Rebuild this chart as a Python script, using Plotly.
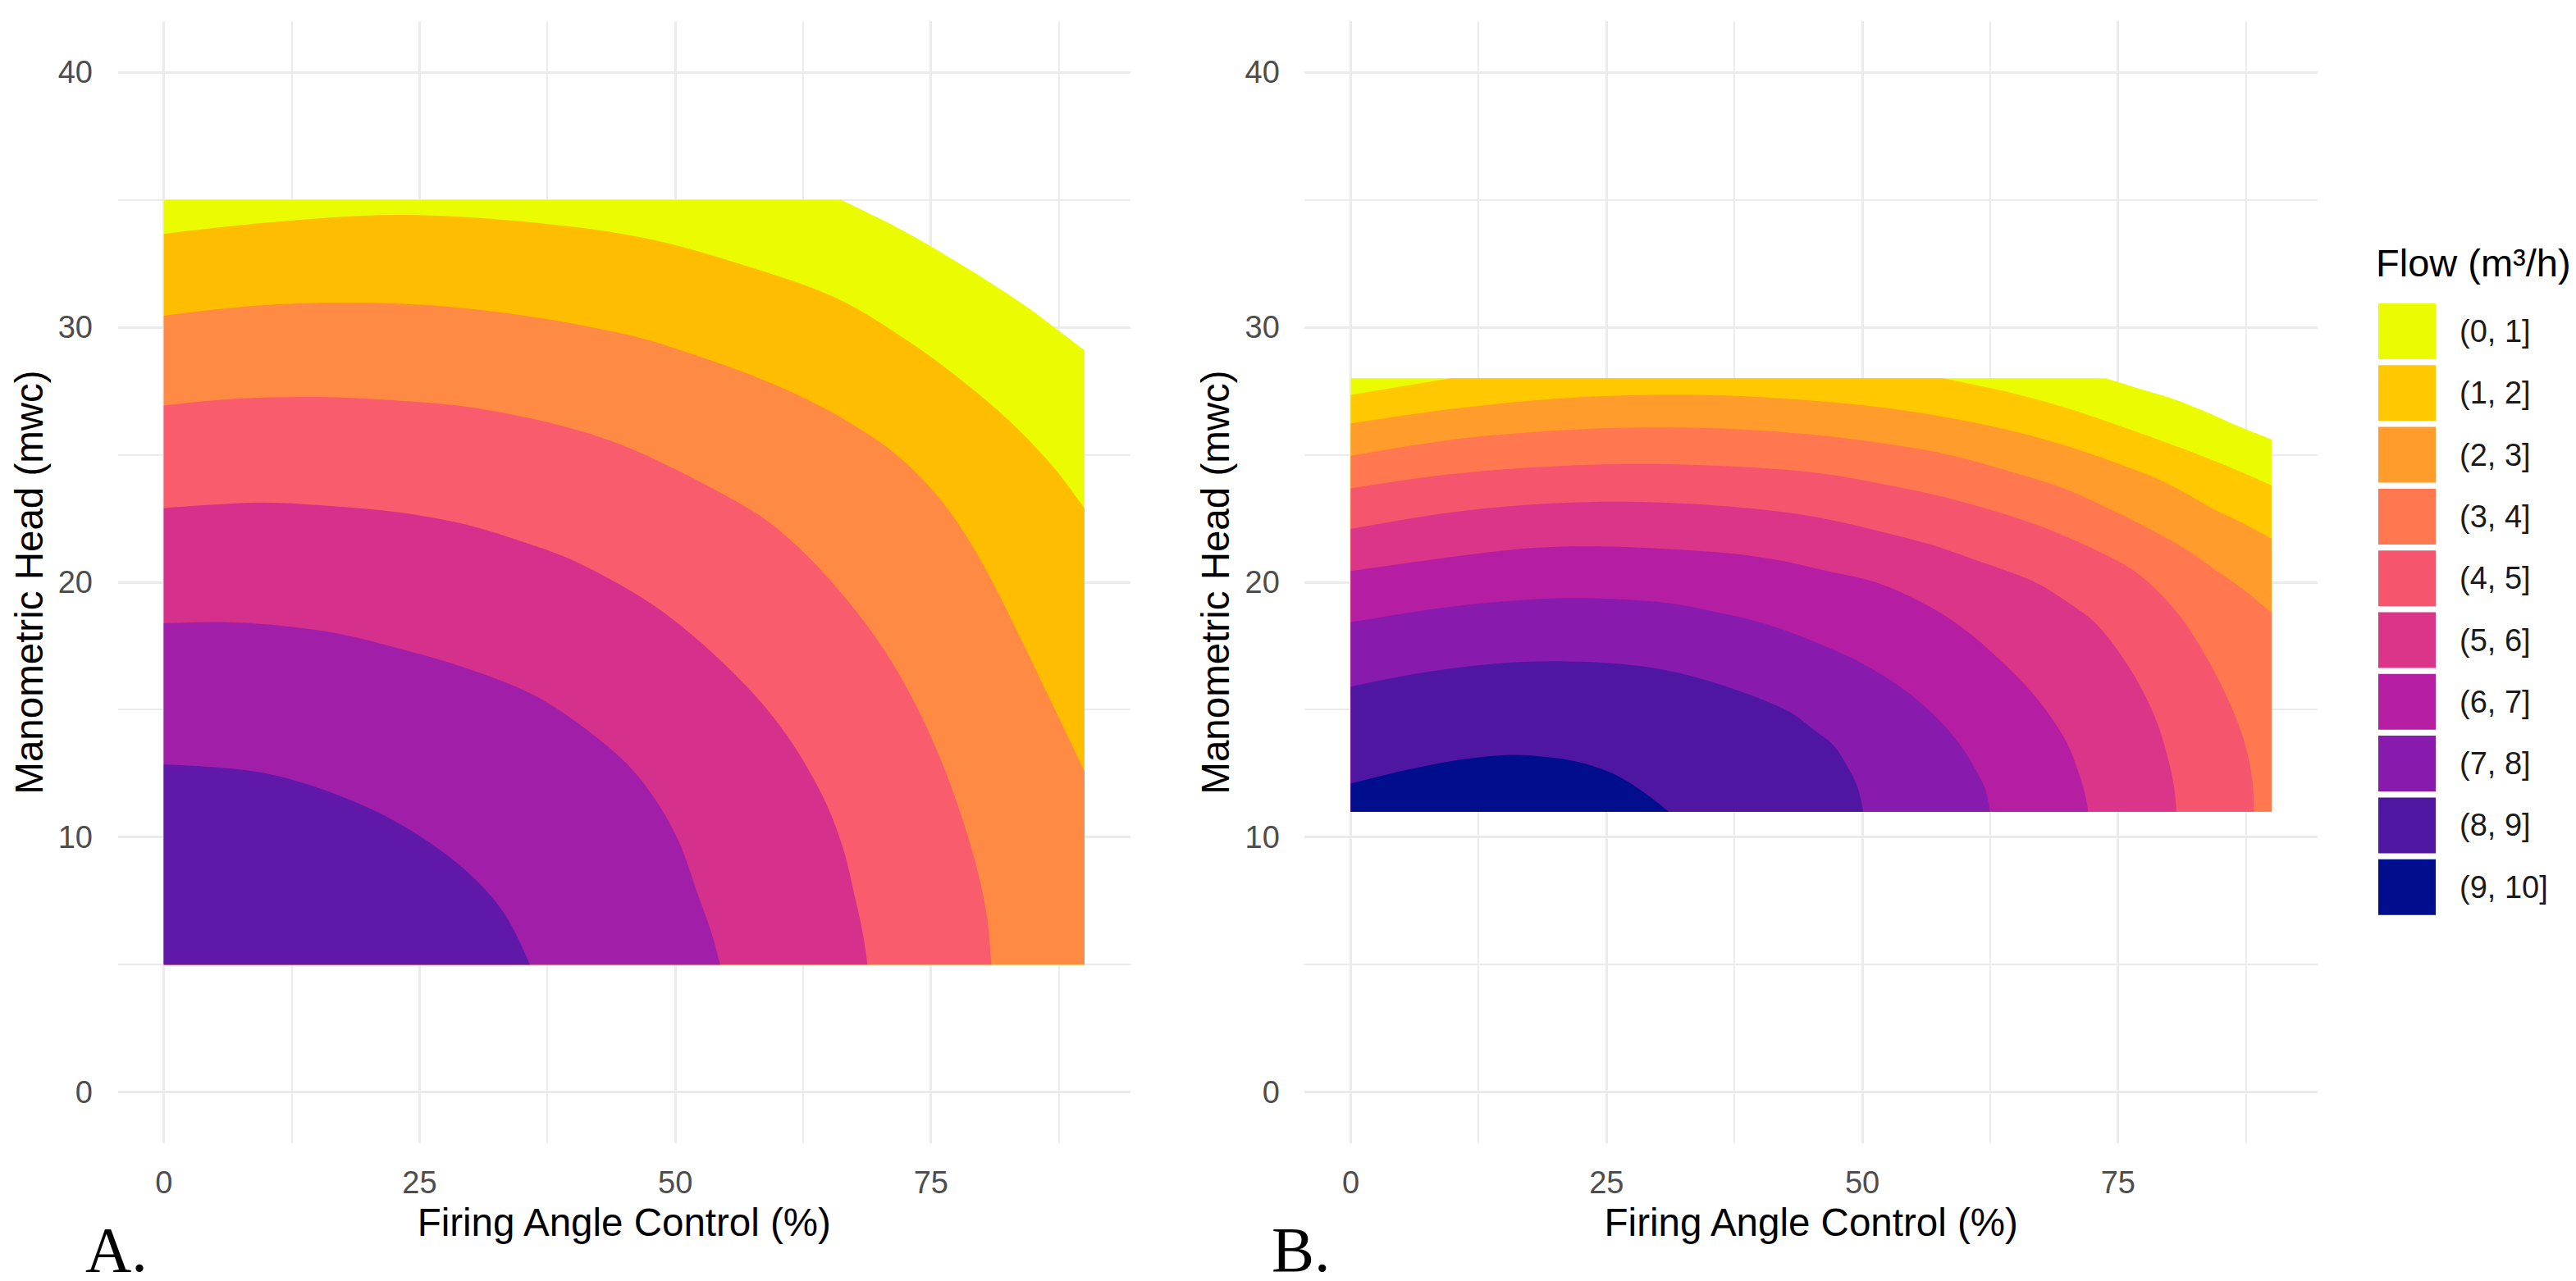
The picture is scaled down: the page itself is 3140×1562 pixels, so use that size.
import plotly.graph_objects as go

W, H = 3140, 1562

# legend bins (panel B palette) and the 7-band palette used in panel A
FLOW_BINS = ["(0, 1]", "(1, 2]", "(2, 3]", "(3, 4]", "(4, 5]",
             "(5, 6]", "(6, 7]", "(7, 8]", "(8, 9]", "(9, 10]"]
FLOW_COLOURS = ["#EBFC00", "#FFC800", "#FF9C2C", "#FF7850", "#F5566E",
                "#DB358A", "#B51DA3", "#881BAD", "#4F16A2", "#000D8C"]
A_COLOURS = ["#EBFC00", "#FFBD00", "#FF8A43", "#F95C6C", "#D5308B",
             "#A11FA8", "#5F18A8"]

X_TICKS = [0, 25, 50, 75]
X_MINOR = [12.5, 37.5, 62.5, 87.5]
Y_TICKS = [0, 10, 20, 30, 40]
Y_MINOR = [5, 15, 25, 35]
X_MAX = 90

# ---- panel A: (firing angle %, head mwc) points along each band edge
A_BASE, A_TOP = 5, 35
A_EDGE_0 = [(0, 35), (66.2, 35), (72, 33.85), (78, 32.45), (84, 30.9), (90, 29.1)]
A_EDGE_1 = [(0, 33.66), (10, 34.1), (22.8, 34.41), (35, 34.15), (47, 33.5), (57, 32.4),
            (66, 31.1), (73, 29.4), (79, 27.6), (83, 26.2), (87, 24.5), (90, 22.9)]
A_EDGE_2 = [(0, 30.45), (9, 30.85), (18.6, 30.97), (28, 30.8), (37, 30.35), (46.4, 29.6),
            (52, 28.9), (58.2, 28.0), (63, 27.15), (67.1, 26.25), (71, 25.2), (74.5, 23.9),
            (77.5, 22.4), (80.5, 20.4), (84, 17.6), (87, 15.1), (90, 12.6)]
A_EDGE_3 = [(0, 26.93), (7, 27.2), (15.1, 27.27), (22, 27.15), (28.7, 26.93), (35, 26.5),
            (40.5, 25.96), (45, 25.35), (49.3, 24.57), (54, 23.6), (58.9, 22.43),
            (63, 21.0), (67, 19.2), (70.5, 17.3), (73.5, 15.2), (76, 13.0), (78, 10.8),
            (79.6, 8.6), (80.5, 6.8), (80.9, 5.0)]
A_EDGE_4 = [(0, 22.91), (5, 23.05), (9.8, 23.13), (16, 23.0), (22.8, 22.75), (29.5, 22.27),
            (35, 21.6), (40.2, 20.82), (48.2, 19.0), (54.9, 16.75), (60.2, 14.39),
            (64.3, 11.7), (66.4, 9.57), (67.5, 7.76), (68.3, 6.3), (68.8, 5.0)]
A_EDGE_5 = [(0, 18.39), (5, 18.44), (10, 18.35), (16.9, 18.0), (23, 17.4), (29.5, 16.64),
            (36.2, 15.57), (41.5, 14.17), (45.5, 12.78), (48.2, 11.39), (50.4, 9.78),
            (52.2, 7.76), (53.5, 6.3), (54.4, 5.0)]
A_EDGE_6 = [(0, 12.85), (10, 12.5), (18, 11.5), (24, 10.3), (29.5, 8.7), (33.3, 7.0),
            (35.8, 5.0)]

# ---- panel B
B_BASE, B_TOP = 11, 28
B_EDGE_0 = [(0, 28), (73.8, 28), (77, 27.6), (80.4, 27.19), (83.5, 26.7), (86.3, 26.2),
            (90, 25.6)]
B_EDGE_1 = [(0, 27.35), (9.8, 28), (57.8, 28), (63.8, 27.5), (69.7, 26.87), (75.6, 26.07),
            (81.6, 25.2), (86, 24.5), (90, 23.8)]
B_EDGE_2 = [(0, 26.23), (10, 26.8), (20, 27.2), (29.7, 27.35), (38, 27.3), (46, 27.09),
            (52, 26.85), (57.8, 26.5), (64, 26.0), (69.7, 25.38), (74, 24.8), (78.6, 24.1),
            (81.6, 23.5), (84.5, 22.83), (87.3, 22.3), (90, 21.71)]
B_EDGE_3 = [(0, 24.96), (10, 25.6), (20, 25.95), (29.4, 26.07), (38, 26.0), (46, 25.76),
            (52, 25.45), (57.8, 25.06), (64, 24.4), (69.7, 23.68), (74, 22.9), (78.6, 21.98),
            (81.6, 21.3), (84.5, 20.49), (87.3, 19.7), (90, 18.8)]
B_EDGE_4 = [(0, 23.68), (10, 24.25), (20, 24.55), (28.2, 24.64), (37, 24.55), (46, 24.27),
            (52, 23.85), (57.8, 23.36), (62, 22.9), (66.7, 22.3), (71, 21.6), (76, 20.6),
            (78.5, 19.8), (81, 18.7), (83, 17.5), (84.8, 16.2), (86.3, 14.9), (87.3, 13.8),
            (87.9, 12.8), (88.2, 11.9), (88.3, 11.0)]
B_EDGE_5 = [(0, 22.09), (10, 22.75), (20, 23.1), (28.2, 23.15), (36, 23.0), (43, 22.72),
            (47.5, 22.4), (51.9, 21.98), (56.5, 21.5), (60.8, 20.91), (66.7, 20.04),
            (69.7, 19.32), (72.7, 18.43), (75.2, 17.2), (77.4, 15.75), (78.9, 14.4),
            (80, 12.9), (80.5, 11.9), (80.7, 11.0)]
B_EDGE_6 = [(0, 20.44), (10, 21.0), (18, 21.35), (25.2, 21.4), (31, 21.3), (37.1, 21.13),
            (42, 20.85), (46, 20.49), (51.3, 20.0), (54.9, 19.4), (57.8, 18.76),
            (60.8, 17.9), (63.8, 16.82), (66.3, 15.8), (68.5, 14.68), (70, 13.7),
            (71, 12.7), (71.7, 11.8), (72.1, 11.0)]
B_EDGE_7 = [(0, 18.43), (8, 18.95), (15, 19.25), (22.2, 19.38), (31.1, 19.18), (35.5, 18.85),
            (40.0, 18.43), (44.5, 17.8), (48.9, 17.04), (52, 16.35), (54.9, 15.54),
            (57.5, 14.6), (59.6, 13.6), (61, 12.7), (62, 11.9), (62.5, 11.0)]
B_EDGE_8 = [(0, 15.91), (7, 16.45), (14, 16.8), (21.1, 16.9), (28.2, 16.72), (33, 16.35),
            (37.1, 15.86), (40.2, 15.4), (43, 14.89), (45.3, 14.2), (47.2, 13.6),
            (48.5, 12.8), (49.5, 12.0), (50.1, 11.0)]
B_EDGE_9 = [(0, 12.1), (5, 12.6), (10, 13.0), (15.7, 13.23), (19, 13.15), (22.2, 12.96),
            (25, 12.6), (27, 12.2), (29.2, 11.6), (31.1, 11.0)]

A_EDGES = [A_EDGE_0, A_EDGE_1, A_EDGE_2, A_EDGE_3, A_EDGE_4, A_EDGE_5, A_EDGE_6]
B_EDGES = [B_EDGE_0, B_EDGE_1, B_EDGE_2, B_EDGE_3, B_EDGE_4, B_EDGE_5, B_EDGE_6,
           B_EDGE_7, B_EDGE_8, B_EDGE_9]

FONT = "Liberation Sans, Arial, sans-serif"
SERIF = "Liberation Serif, Times New Roman, serif"
GRID = "#EBEBEB"


def band(edge, base, top):
    # edge, then down the right wall (if needed) and back along the base;
    # points on the panel border get tight neighbours so the spline keeps a sharp corner
    path = list(edge)
    if edge[-1][1] > base:
        path.append((X_MAX, base))
    path.append((0, base))

    def on_border(p):
        return p[0] in (0, X_MAX) or p[1] in (base, top)

    def toward(p, q, f=0.002):
        return (p[0] + (q[0] - p[0]) * f, p[1] + (q[1] - p[1]) * f)

    out = [path[0]]
    for i in range(1, len(path) - 1):
        p = path[i]
        if on_border(p):
            out += [toward(p, path[i - 1]), p, toward(p, path[i + 1])]
        else:
            out.append(p)
    out.append(path[-1])
    return [p[0] for p in out], [p[1] for p in out]


def px(v):
    return v / W


def py(v):
    return 1 - v / H


fig = go.Figure()

for edges, colours, base, top, xa, ya in (
    (A_EDGES, A_COLOURS, A_BASE, A_TOP, "x", "y"),
    (B_EDGES, FLOW_COLOURS, B_BASE, B_TOP, "x2", "y2"),
):
    for edge, colour in zip(edges, colours):
        xs, ys = band(edge, base, top)
        fig.add_trace(go.Scatter(
            x=xs, y=ys, xaxis=xa, yaxis=ya, mode="lines", fill="toself",
            fillcolor=colour, line=dict(width=0, color=colour, shape="spline", smoothing=1),
            hoverinfo="skip", showlegend=False,
        ))


def x_axis(left, right, anchor):
    return dict(
        domain=[px(left), px(right)], anchor=anchor, range=[-4.5, 94.5],
        tickvals=X_TICKS, showgrid=True, gridcolor=GRID, gridwidth=3,
        minor=dict(tickvals=X_MINOR, showgrid=True, gridcolor=GRID, gridwidth=1.5),
        zeroline=False, showline=False, ticks="outside", ticklen=14,
        tickcolor="rgba(0,0,0,0)", tickfont=dict(family=FONT, size=38, color="#4D4D4D"),
        title=dict(text="Firing Angle Control (%)", standoff=12,
                   font=dict(family=FONT, size=47.5, color="black")),
        automargin=False, fixedrange=True,
    )


def y_axis(anchor):
    return dict(
        domain=[py(1386), py(18)], anchor=anchor, range=[-2, 42],
        tickvals=Y_TICKS, showgrid=True, gridcolor=GRID, gridwidth=3,
        minor=dict(tickvals=Y_MINOR, showgrid=True, gridcolor=GRID, gridwidth=1.5),
        zeroline=False, showline=False, ticks="outside", ticklen=22,
        tickcolor="rgba(0,0,0,0)", tickfont=dict(family=FONT, size=38, color="#4D4D4D"),
        title=dict(text="Manometric Head (mwc)", standoff=3,
                   font=dict(family=FONT, size=47.5, color="black")),
        automargin=False, fixedrange=True,
    )


shapes = []
annotations = [
    dict(text="A.", x=px(95), y=py(1560), xref="paper", yref="paper", xanchor="left",
         yanchor="bottom", showarrow=False, borderpad=0,
         font=dict(family=SERIF, size=78, color="black")),
    dict(text="B.", x=px(1541), y=py(1560), xref="paper", yref="paper", xanchor="left",
         yanchor="bottom", showarrow=False, borderpad=0,
         font=dict(family=SERIF, size=78, color="black")),
    dict(text="Flow (m³/h)", x=px(2887), y=py(313), xref="paper", yref="paper",
         xanchor="left", yanchor="middle", showarrow=False, borderpad=0,
         font=dict(family=FONT, size=47, color="black")),
]

# legend keys drawn by hand so they keep ggplot's big square swatches
key_top, key_step, key_h = 362, 75.3, 68
for i, (label, colour) in enumerate(zip(FLOW_BINS, FLOW_COLOURS)):
    top = key_top + i * key_step
    shapes.append(dict(type="rect", xref="paper", yref="paper",
                       x0=px(2891), x1=px(2961), y0=py(top + key_h), y1=py(top),
                       fillcolor=colour, line=dict(width=0)))
    annotations.append(dict(text=label, x=px(2988), y=py(top + key_h / 2),
                            xref="paper", yref="paper", xanchor="left", yanchor="middle",
                            showarrow=False, font=dict(family=FONT, size=38, color="#1A1A1A")))

fig.update_layout(
    width=W, height=H, autosize=False,
    margin=dict(l=0, r=0, t=0, b=0),
    paper_bgcolor="white", plot_bgcolor="white",
    xaxis=x_axis(135.6, 1370, "y"),
    yaxis=y_axis("x"),
    xaxis2=x_axis(1582.4, 2817, "y2"),
    yaxis2=y_axis("x2"),
    shapes=shapes,
    annotations=annotations,
    showlegend=False,
)

fig.write_html("out.html")
